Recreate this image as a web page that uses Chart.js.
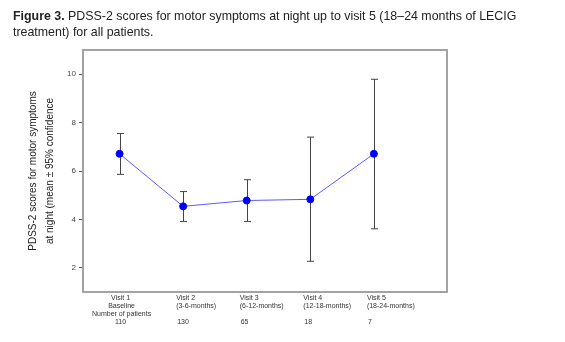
<!DOCTYPE html>
<html>
<head>
<meta charset="utf-8">
<script src="https://cdn.jsdelivr.net/npm/chart.js@4.4.0/dist/chart.umd.min.js"></script>
<style>
    body { margin: 0; background: #fff; }
    #wrap { position: relative; width: 565px; height: 342px; }
    #grafico { position: absolute; left: 0; top: 0; }
    #titulo {
        position: absolute; left: 13px; top: 8px;
        font: 12.4px "Liberation Sans", Arial, sans-serif;
        line-height: 16px; color: #222; white-space: nowrap;
    }
</style>
</head>
<body>
<div id="wrap">
    <canvas id="grafico" width="565" height="342"></canvas>
    <div id="titulo"><b>Figure 3.</b> PDSS-2 scores for motor symptoms at night up to visit 5 (18–24 months of LECIG<br>treatment) for all patients.</div>
</div>
<script>
        // Datos
        const visitas = [1, 2, 3, 4, 5];
        const medias = [6.71, 4.54, 4.78, 4.83, 6.71];
        const inferior = [5.86, 3.91, 3.91, 2.27, 3.61];
        const superior = [7.55, 5.15, 5.64, 7.40, 9.79];
        const etiquetasVisita = ["Visit 1", "Visit 2", "Visit 3", "Visit 4", "Visit 5"];
        const etiquetasPeriodo = ["Baseline", "(3-6-months)", "(6-12-months)", "(12-18-months)", "(18-24-months)"];
        const pacientes = ["110", "130", "65", "18", "7"];
        const yTicks = [2, 4, 6, 8, 10];

        const fuente = '"Liberation Sans", Arial, sans-serif';

        // Barras de error (IC 95%)
        const barrasError = {
            id: 'barrasError',
            beforeDatasetsDraw(chart) {
                const { ctx, scales: { x, y } } = chart;
                ctx.save();
                ctx.strokeStyle = '#444';
                ctx.lineWidth = 1;
                visitas.forEach((v, i) => {
                    const px = Math.round(x.getPixelForValue(v)) + 0.5;
                    const top = y.getPixelForValue(superior[i]);
                    const bot = y.getPixelForValue(inferior[i]);
                    ctx.beginPath();
                    ctx.moveTo(px, top); ctx.lineTo(px, bot);
                    ctx.moveTo(px - 3.5, top); ctx.lineTo(px + 3.5, top);
                    ctx.moveTo(px - 3.5, bot); ctx.lineTo(px + 3.5, bot);
                    ctx.stroke();
                });
                ctx.restore();
            }
        };

        // Marco y etiquetas inferiores
        const marcoYEtiquetas = {
            id: 'marcoYEtiquetas',
            afterDraw(chart) {
                const { ctx, chartArea: a, scales: { x } } = chart;
                ctx.save();
                ctx.strokeStyle = '#999';
                ctx.lineWidth = 1.8;
                ctx.strokeRect(a.left, a.top, a.right - a.left, a.bottom - a.top);

                ctx.font = '7px ' + fuente;
                ctx.fillStyle = '#333';
                ctx.textBaseline = 'middle';
                visitas.forEach((v, i) => {
                    const px = x.getPixelForValue(v);
                    if (i === 0) {
                        ctx.textAlign = 'center';
                        ctx.fillText(etiquetasVisita[i], px + 1, a.bottom + 6);
                        ctx.fillText(etiquetasPeriodo[i], px + 2, a.bottom + 14);
                        ctx.fillText('Number of patients', px + 2, a.bottom + 22);
                        ctx.fillText(pacientes[i], px + 1, a.bottom + 30);
                    } else {
                        ctx.textAlign = 'left';
                        ctx.fillText(etiquetasVisita[i], px - 7, a.bottom + 6);
                        ctx.fillText(etiquetasPeriodo[i], px - 7, a.bottom + 14);
                        ctx.fillText(pacientes[i], px - 6, a.bottom + 30);
                    }
                });
                ctx.restore();
            }
        };

        const ctx = document.getElementById('grafico').getContext('2d');
        const chart = new Chart(ctx, {
            type: 'line',
            data: {
                datasets: [{
                    data: visitas.map((v, i) => ({ x: v, y: medias[i] })),
                    borderColor: '#5a5aff',
                    borderWidth: 1,
                    pointBackgroundColor: '#0000ff',
                    pointBorderColor: '#0000ff',
                    pointRadius: 3.5,
                    tension: 0
                }]
            },
            options: {
                responsive: false,
                animation: false,
                layout: { padding: { top: 50, right: 118, bottom: 50, left: 0 } },
                plugins: { legend: { display: false }, tooltip: { enabled: false } },
                scales: {
                    x: { type: 'linear', min: 0.425, max: 6.15, display: false },
                    y: {
                        min: 1, max: 11,
                        afterBuildTicks: s => { s.ticks = yTicks.map(v => ({ value: v })); },
                        afterFit: s => { s.width = 83; },
                        grid: { drawOnChartArea: false, tickLength: 4, color: '#555', lineWidth: 1 },
                        border: { display: false },
                        ticks: { font: { size: 8, family: fuente }, color: '#444', padding: 3 },
                        title: {
                            display: true,
                            text: ['PDSS-2 scores for motor symptoms', 'at night (mean ± 95% confidence'],
                            font: { size: 10, family: fuente, lineHeight: 1.7 },
                            color: '#222',
                            padding: { top: 24.5, bottom: 0 }
                        }
                    }
                }
            },
            plugins: [barrasError, marcoYEtiquetas]
        });
</script>
</body>
</html>
